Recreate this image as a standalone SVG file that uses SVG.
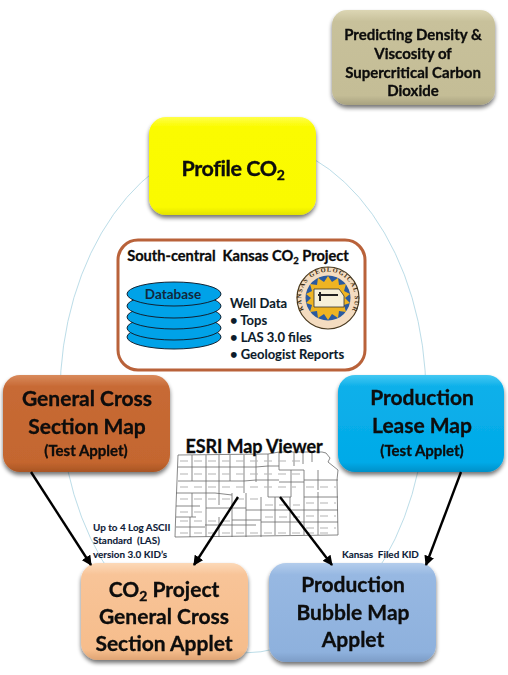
<svg xmlns="http://www.w3.org/2000/svg" xmlns:xlink="http://www.w3.org/1999/xlink" width="508" height="675" viewBox="0 0 508 675">
<style>
text{font-family:"Lato","Carlito","Liberation Sans",sans-serif;font-weight:700;fill:#0a0a0a;stroke:#0a0a0a;stroke-width:.3;text-anchor:middle}
.big{font-size:21px}
.mid{font-size:15px}
.sub{font-size:15px}
.lab{font-size:13px;text-anchor:start;fill:#0c1c2c;stroke-width:.1}
.tiny{font-size:9.9px;text-anchor:start;fill:#0c1c3c;stroke-width:.1}
.conn{fill:none;stroke:#000;stroke-width:2.4;marker-end:url(#ah)}
.grid{fill:none;stroke:#6a6a6a;stroke-width:.8}
.smudge{fill:none;stroke:#b4b4b4;stroke-width:1.2;stroke-dasharray:8 6}
.db{fill:#00a2e8;stroke:#123;stroke-width:1}
.seal{font-family:"Liberation Serif",serif;font-size:6.4px;letter-spacing:1.1px;fill:#3a2a10;stroke:none;text-anchor:start}
</style>
<defs>
<marker id="ah" viewBox="0 0 10 10" refX="9" refY="5" markerWidth="4.2" markerHeight="4.2" orient="auto" markerUnits="strokeWidth"><path d="M0 0L10 5L0 10z" fill="#000"/></marker>
<filter id="sh" x="-10%" y="-10%" width="120%" height="125%"><feGaussianBlur in="SourceAlpha" stdDeviation="2.2"/><feOffset dx="0" dy="3"/><feComponentTransfer><feFuncA type="linear" slope=".55"/></feComponentTransfer><feMerge><feMergeNode/><feMergeNode in="SourceGraphic"/></feMerge></filter>
<linearGradient id="gP" x1="0" y1="0" x2="0" y2="1"><stop offset="0" stop-color="#dcd6b4"/><stop offset=".12" stop-color="#c8c19b"/><stop offset=".9" stop-color="#c4bd96"/><stop offset="1" stop-color="#a8a280"/></linearGradient>
<linearGradient id="gY" x1="0" y1="0" x2="0" y2="1"><stop offset="0" stop-color="#ffff4a"/><stop offset=".1" stop-color="#fbfb00"/><stop offset=".92" stop-color="#fafa00"/><stop offset="1" stop-color="#e2e200"/></linearGradient>
<linearGradient id="gG" x1="0" y1="0" x2="0" y2="1"><stop offset="0" stop-color="#d98a5c"/><stop offset=".12" stop-color="#c76a35"/><stop offset=".9" stop-color="#c4662f"/><stop offset="1" stop-color="#a85524"/></linearGradient>
<linearGradient id="gL" x1="0" y1="0" x2="0" y2="1"><stop offset="0" stop-color="#45c8f2"/><stop offset=".12" stop-color="#0cb0ea"/><stop offset=".9" stop-color="#02aae8"/><stop offset="1" stop-color="#0090c8"/></linearGradient>
<linearGradient id="gC" x1="0" y1="0" x2="0" y2="1"><stop offset="0" stop-color="#fcd9b8"/><stop offset=".12" stop-color="#f8c498"/><stop offset=".9" stop-color="#f6bd8c"/><stop offset="1" stop-color="#dfa474"/></linearGradient>
<linearGradient id="gB" x1="0" y1="0" x2="0" y2="1"><stop offset="0" stop-color="#b4cdec"/><stop offset=".12" stop-color="#97b8e2"/><stop offset=".9" stop-color="#8eb1dd"/><stop offset="1" stop-color="#7c9cc6"/></linearGradient>
<path id="sealArc" d="M303.8 310A26.8 26.8 0 1 1 352.2 310"/>
</defs>
<rect width="508" height="675" fill="#fff"/>
<ellipse id="ring" cx="243" cy="396" rx="183" ry="257" fill="none" stroke="#bcdde8" stroke-width="1"/>
<g id="predicting" filter="url(#sh)"><rect x="332" y="10" width="163" height="95" rx="15" fill="url(#gP)"/>
<text class="mid" x="413" y="40">Predicting Density &amp;</text><text class="mid" x="413" y="59">Viscosity of</text><text class="mid" x="413" y="78">Supercritical Carbon</text><text class="mid" x="413" y="96">Dioxide</text></g>
<g id="profile" filter="url(#sh)"><rect x="149" y="117" width="167" height="98" rx="17" fill="url(#gY)"/>
<text x="233" y="176" font-size="21.5" letter-spacing="-.4">Profile CO<tspan font-size="14" dy="4">2</tspan></text></g>
<g id="project"><rect x="118" y="240" width="247" height="130" rx="20" fill="#fff" stroke="#b9623a" stroke-width="3"/>
<text x="238" y="261" font-size="14.6">South-central&#160; Kansas CO<tspan font-size="9.5" dy="3">2</tspan><tspan dy="-3"> Project</tspan></text>
<g id="database"><ellipse class="db" cx="174" cy="337" rx="47" ry="12"/><ellipse class="db" cx="174" cy="328" rx="47" ry="12"/><ellipse class="db" cx="174" cy="317" rx="47" ry="12"/><ellipse class="db" cx="174" cy="306" rx="47" ry="12"/><ellipse class="db" cx="174" cy="294" rx="47" ry="12"/>
<text x="173" y="299" font-size="13.5" style="fill:#12283c;stroke:none">Database</text></g>
<text class="lab" x="230" y="308">Well Data</text>
<text class="lab" x="230" y="325">• Tops</text>
<text class="lab" x="230" y="342">• LAS 3.0 files</text>
<text class="lab" x="230" y="359">• Geologist Reports</text>
<g id="seal"><circle cx="328" cy="298" r="31" fill="#f4dcc0" stroke="#4a3a20" stroke-width="1.2"/>
<circle cx="328" cy="298" r="22.5" fill="#2a5aa0"/>
<polygon fill="#eeb422" points="328,276 332,282 338,278 339,285 346,284 344,291 350,294 345,298 350,303 344,305 346,312 339,311 338,318 332,314 328,320 324,314 318,318 317,311 310,312 312,305 306,303 311,298 306,294 312,291 310,284 317,285 318,278 324,282"/>
<path d="M314 289H339L342 293L344 296V307H314Z" fill="#f6f0d8" stroke="#333" stroke-width=".8"/>
<path d="M318 295H338M320 292V301" fill="none" stroke="#222" stroke-width="2"/>
<text class="seal"><textPath xlink:href="#sealArc" href="#sealArc">KANSAS GEOLOGICAL SURVEY</textPath></text></g></g>
<g id="map"><path class="grid" d="M178 455L268 454L279 452H322L326 453L330 458L328 462L338 470L337 480L338 535L175 537L176 506L178 455Z
M178 467H256L268 466H279M178 481H244L256 480H279M176 493H215L232 495M176 506H200M176 517H196M176 527H205M205 525H256
M192 455V467M206 455V481M219 455V481M230 455V481M244 455V493M256 454V482M268 454V497M279 452V470M294 452V466M303 452V464M312 453V462
M192 467V481M206 481V493M219 481V493
M192 493V517M206 493V508M219 493V505M232 493V505M246 493V508M261 497V510M206 508H246M206 508V537M219 517V537M232 505V537M246 508V537M190 517V537
M232 520H261M261 510V537M246 510H275M275 497V535M275 510H304M290 497V510M290 512V535M304 497V535M318 492V535M279 482H304M279 470H304M291 470V497M304 480H338M304 497H338M304 470V497M318 470V490M268 497H291M304 510H338M304 522H338M261 522H304"/>
<path class="smudge" d="M180 461H304M180 474H300M180 487H296M180 499H258M180 512H206M180 521H232M180 533H330M265 505H300M265 517H300M306 487H336M306 503H336M306 516H336M306 528H336"/><text x="254" y="453" font-size="18" letter-spacing="-.1">ESRI Map Viewer</text></g>
<g id="general" filter="url(#sh)"><rect x="3" y="375" width="167" height="97" rx="17" fill="url(#gG)"/>
<text class="big" x="87" y="406">General Cross</text><text class="big" x="87" y="434">Section Map</text><text class="sub" x="86" y="456">(Test Applet)</text></g>
<g id="lease" filter="url(#sh)"><rect x="338" y="375" width="166" height="97" rx="17" fill="url(#gL)"/>
<text class="big" x="422" y="405">Production</text><text class="big" x="422" y="433">Lease Map</text><text class="sub" x="422" y="456">(Test Applet)</text></g>
<g id="co2app" filter="url(#sh)"><rect x="81" y="563" width="167" height="97" rx="17" fill="url(#gC)"/>
<text class="big" x="164" y="597">CO<tspan font-size="14" dy="4">2</tspan><tspan dy="-4"> Project</tspan></text><text class="big" x="164" y="624">General Cross</text><text class="big" x="164" y="651">Section Applet</text></g>
<g id="bubble" filter="url(#sh)"><rect x="269" y="563" width="167" height="99" rx="17" fill="url(#gB)"/>
<text class="big" x="353" y="592">Production</text><text class="big" x="353" y="620">Bubble Map</text><text class="big" x="353" y="647">Applet</text></g>
<g id="connectors"><path class="conn" d="M31 472L91 565"/><path class="conn" d="M238 497L194 565"/><path class="conn" d="M280 497L332 565"/><path class="conn" d="M461 472L426 565"/></g>
<g id="labels"><text class="tiny" x="93" y="531">Up to 4 Log ASCII</text><text class="tiny" x="93" y="544">Standard&#160; (LAS)</text><text class="tiny" x="93" y="558">version 3.0 KID’s</text><text class="tiny" x="342" y="558">Kansas&#160; Filed KID</text></g>
</svg>
